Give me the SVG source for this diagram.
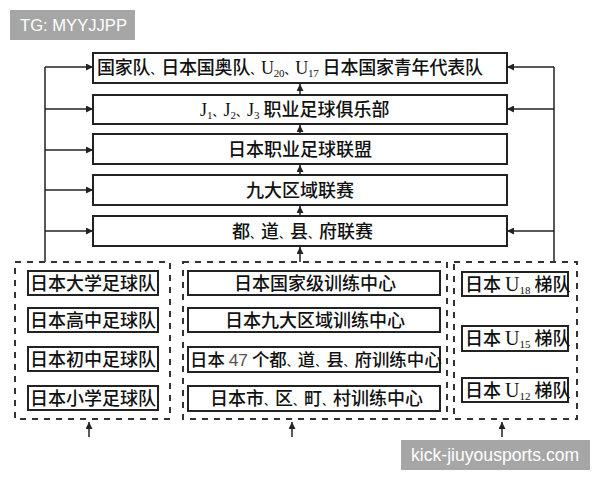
<svg xmlns="http://www.w3.org/2000/svg" width="600" height="480" viewBox="0 0 600 480">
<defs>
<marker id="ah" viewBox="0 0 10 10" refX="10" refY="5" markerWidth="7" markerHeight="7" markerUnits="userSpaceOnUse" orient="auto">
<path d="M0,0 L10,5 L0,10 z" fill="#222"/>
</marker>
<style>
.box{fill:#fff;stroke:#222;stroke-width:2}
.dbox{fill:none;stroke:#333;stroke-width:2;stroke-dasharray:6 6}
.t{font-family:"Noto Sans CJK SC","Noto Sans CJK JP",sans-serif;font-size:18px;font-weight:500;fill:#111}
.p{font-size:11px}
.s{font-family:"Liberation Serif",serif;font-weight:normal}
.sub{font-family:"Liberation Serif",serif;font-size:11px;font-weight:normal}
.c{fill:none;stroke:#222;stroke-width:1.5}
.wm{fill:#a6a6a6}
.wmt{font-family:"Liberation Sans",Arial,sans-serif;font-size:17.6px;fill:#fff}
</style>
</defs>
<rect width="600" height="480" fill="#fff"/>

<g id="connectors">
<path class="c" d="M45,67 V262"/>
<path class="c" d="M554,67 V262"/>
<path class="c" d="M45,67 H93" marker-end="url(#ah)"/>
<path class="c" d="M45,109 H93" marker-end="url(#ah)"/>
<path class="c" d="M45,150 H93" marker-end="url(#ah)"/>
<path class="c" d="M45,190 H93" marker-end="url(#ah)"/>
<path class="c" d="M45,231 H93" marker-end="url(#ah)"/>
<path class="c" d="M554,67 H507" marker-end="url(#ah)"/>
<path class="c" d="M554,109 H507" marker-end="url(#ah)"/>
<path class="c" d="M554,231 H507" marker-end="url(#ah)"/>
<path class="c" d="M300,95 V84" marker-end="url(#ah)"/>
<path class="c" d="M300,134 V125" marker-end="url(#ah)"/>
<path class="c" d="M300,175 V165" marker-end="url(#ah)"/>
<path class="c" d="M300,216 V206" marker-end="url(#ah)"/>
<path class="c" d="M300,262 V247" marker-end="url(#ah)"/>
<path class="c" d="M89,437 V422" marker-end="url(#ah)"/>
<path class="c" d="M292,437 V422" marker-end="url(#ah)"/>
<path class="c" d="M502,437 V422" marker-end="url(#ah)"/>
</g>

<g id="n1"><rect class="box" x="93" y="53" width="414" height="30"/>
<text class="t" x="97" y="74" textLength="386" lengthAdjust="spacing">国家队<tspan class="p">、</tspan>日本国奥队<tspan class="p">、</tspan><tspan class="s">U</tspan><tspan class="sub" dy="3">20</tspan><tspan class="p" dy="-3">、</tspan><tspan class="s">U</tspan><tspan class="sub" dy="3">17</tspan><tspan dy="-3" dx="4">日本国家青年代表队</tspan></text></g>

<g id="n2"><rect class="box" x="93" y="95" width="414" height="29"/>
<text class="t" x="200" y="116"><tspan class="s">J</tspan><tspan class="sub" dy="3">1</tspan><tspan class="p" dy="-3">、</tspan><tspan class="s">J</tspan><tspan class="sub" dy="3">2</tspan><tspan class="p" dy="-3">、</tspan><tspan class="s">J</tspan><tspan class="sub" dy="3">3</tspan><tspan dy="-3" dx="4">职业足球俱乐部</tspan></text></g>

<g id="n3"><rect class="box" x="93" y="134" width="414" height="30"/>
<text class="t" x="300" y="156" text-anchor="middle">日本职业足球联盟</text></g>

<g id="n4"><rect class="box" x="93" y="175" width="414" height="30"/>
<text class="t" x="300" y="197" text-anchor="middle">九大区域联赛</text></g>

<g id="n5"><rect class="box" x="93" y="216" width="414" height="30"/>
<text class="t" x="232" y="238">都<tspan class="p">、</tspan>道<tspan class="p">、</tspan>县<tspan class="p">、</tspan>府联赛</text></g>

<g id="g-left">
<rect class="dbox" x="15" y="262" width="155" height="157"/>
<g id="l1"><rect class="box" x="28" y="271" width="130" height="24"/><text class="t" x="93" y="290" text-anchor="middle">日本大学足球队</text></g>
<g id="l2"><rect class="box" x="28" y="308" width="130" height="24"/><text class="t" x="93" y="327" text-anchor="middle">日本高中足球队</text></g>
<g id="l3"><rect class="box" x="28" y="347" width="130" height="24"/><text class="t" x="93" y="366" text-anchor="middle">日本初中足球队</text></g>
<g id="l4"><rect class="box" x="28" y="386" width="130" height="24"/><text class="t" x="93" y="405" text-anchor="middle">日本小学足球队</text></g>
</g>

<g id="g-mid">
<rect class="dbox" x="183" y="262" width="264" height="157"/>
<g id="m1"><rect class="box" x="188" y="271" width="252" height="24"/><text class="t" x="315" y="290" text-anchor="middle">日本国家级训练中心</text></g>
<g id="m2"><rect class="box" x="188" y="308" width="252" height="24"/><text class="t" x="315" y="327" text-anchor="middle">日本九大区域训练中心</text></g>
<g id="m3"><rect class="box" x="188" y="347" width="252" height="25"/><text class="t" x="190" y="366" style="font-size:17.4px">日本 <tspan font-family="Liberation Sans,sans-serif" font-weight="normal" fill="#555">47</tspan> 个都<tspan class="p">、</tspan>道<tspan class="p">、</tspan>县<tspan class="p">、</tspan>府训练中心</text></g>
<g id="m4"><rect class="box" x="188" y="386" width="252" height="25"/><text class="t" x="210" y="405">日本市<tspan class="p">、</tspan>区<tspan class="p">、</tspan>町<tspan class="p">、</tspan>村训练中心</text></g>
</g>

<g id="g-right">
<rect class="dbox" x="454" y="262" width="123" height="157"/>
<g id="r1"><rect class="box" x="462" y="272" width="106" height="24"/><text class="t" x="465" y="291">日本 <tspan class="s" font-size="20">U</tspan><tspan class="sub" dy="3">18</tspan><tspan dy="-3"> 梯队</tspan></text></g>
<g id="r2"><rect class="box" x="462" y="326" width="106" height="25"/><text class="t" x="465" y="345">日本 <tspan class="s" font-size="20">U</tspan><tspan class="sub" dy="3">15</tspan><tspan dy="-3"> 梯队</tspan></text></g>
<g id="r3"><rect class="box" x="462" y="378" width="106" height="24"/><text class="t" x="465" y="397">日本 <tspan class="s" font-size="20">U</tspan><tspan class="sub" dy="3">12</tspan><tspan dy="-3"> 梯队</tspan></text></g>
</g>

<g id="watermarks">
<rect class="wm" x="10" y="10" width="125" height="30"/>
<text class="wmt" x="20" y="31" style="font-size:16.6px">TG: MYYJJPP</text>
<rect class="wm" x="401" y="440" width="189" height="30"/>
<text class="wmt" x="411" y="461">kick-jiuyousports.com</text>
</g>
</svg>
